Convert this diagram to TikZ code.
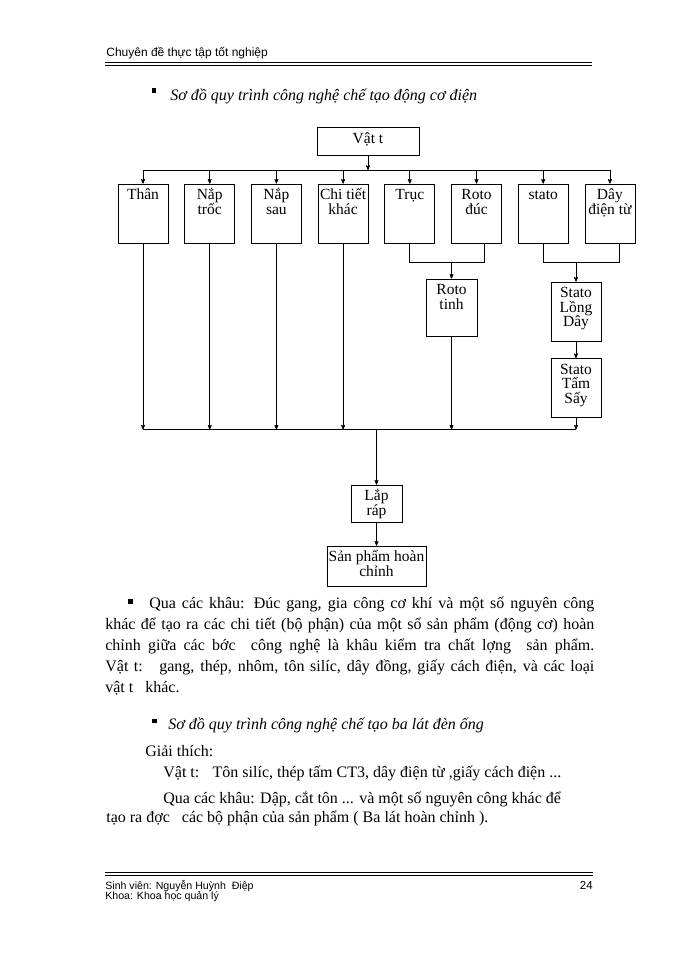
\documentclass[tikz,border=0pt]{standalone}
\usepackage{fontspec}
\setmainfont{Liberation Serif}
\newfontfamily\handfont{Liberation Sans}
\usetikzlibrary{arrows,positioning}
\newcommand{\boxfont}{\fontsize{15.5}{14.5}\selectfont\lineskiplimit=-20pt}
\newcommand{\toptext}[3]{\parbox[c][#1][t]{#2}{\centering\boxfont\rule{0pt}{14.5pt}#3}}
\tikzstyle{part}   = [draw,inner sep=0pt,minimum width=50pt,minimum height=59pt]
\tikzstyle{bullet} = [fill=black,inner sep=0pt,minimum size=4.5pt]
\tikzstyle{para}   = [inner sep=0pt,font=\fontsize{16}{21}\selectfont]
\tikzstyle{hand}   = [inner sep=0pt,font=\handfont\fontsize{10.6}{10.6}\selectfont]

\begin{document}
\begin{tikzpicture}[x=1pt,y=-1pt,->,>=stealth',line width=0.7pt,node distance=66.7pt]
\useasboundingbox (0,0) rectangle (700,960);

% header
\node[hand,anchor=base west,font=\handfont\fontsize{12}{12}\selectfont] (head) at (106,57) {Chuyên đề thực tập tốt nghiệp};
\draw[-] (105,62.5) -- (592,62.5);
\draw[-] (105,65) -- (592,65);

\node[bullet] (b1) at (154,90.5) {};
\node[para,anchor=base west,font=\itshape\fontsize{16}{16}\selectfont] (title1) at (170,101) {Sơ đồ quy trình công nghệ chế tạo động cơ điện};

% diagram
\node[draw,inner sep=0pt,minimum width=102pt,minimum height=28pt] (vattu) at (368,141) {\toptext{24pt}{100pt}{Vật t}};

\node[part] (than)              at (143,213.5) {\toptext{57pt}{50pt}{Thân}};
\node[part] (naptroc) [right of=than]    {\toptext{57pt}{50pt}{Nắp\\trốc}};
\node[part] (napsau)  [right of=naptroc] {\toptext{57pt}{50pt}{Nắp\\sau}};
\node[part] (chitiet) [right of=napsau]  {\toptext{57pt}{50pt}{Chi~tiết\\khác}};
\node[part] (truc)    [right of=chitiet] {\toptext{57pt}{50pt}{Trục}};
\node[part] (rotoduc) [right of=truc]    {\toptext{57pt}{50pt}{Roto\\đúc}};
\node[part] (stato)   [right of=rotoduc] {\toptext{57pt}{50pt}{stato}};
\node[part] (day)     [right of=stato]   {\toptext{57pt}{50pt}{Dây\\điện~từ}};

\node[part,minimum width=51pt,minimum height=57pt] (rototinh) at (451.5,307.5) {\toptext{55pt}{51pt}{Roto\\tinh}};
\node[part] (statolong) at (576,311.5) {\toptext{57pt}{50pt}{Stato\\Lồng\\Dây}};
\node[part] (statosay)  at (576,388)   {\toptext{57pt}{50pt}{Stato\\Tẩm\\Sấy}};
\node[part,minimum width=51pt,minimum height=37pt] (laprap)  at (376.5,503.5) {\toptext{35pt}{51pt}{Lắp\\ráp}};
\node[part,minimum width=99pt,minimum height=40pt] (sanpham) at (376.5,566)   {\toptext{38pt}{99pt}{Sản phẩm hoàn\\chỉnh}};

\coordinate (topbus)  at (0,170);
\coordinate (joinrow) at (0,262);
\coordinate (botbus)  at (0,429.5);

\draw (vattu) -- (vattu |- topbus);
\draw[-] (than |- topbus) -- (day |- topbus);
\path (than |- topbus)    edge (than)
      (naptroc |- topbus) edge (naptroc)
      (napsau |- topbus)  edge (napsau)
      (chitiet |- topbus) edge (chitiet)
      (truc |- topbus)    edge (truc)
      (rotoduc |- topbus) edge (rotoduc)
      (stato |- topbus)   edge (stato)
      (day |- topbus)     edge (day);

\draw[-] (truc) -- (truc |- joinrow) -| ([xshift=8pt]rotoduc.south);
\draw (rototinh |- joinrow) -- (rototinh);
\draw[-] (stato) -- (stato |- joinrow) -| ([xshift=9pt]day.south);
\draw (statolong |- joinrow) -- (statolong);
\draw (statolong) -- (statosay);

\path (than)     edge (than |- botbus)
      (naptroc)  edge (naptroc |- botbus)
      (napsau)   edge (napsau |- botbus)
      (chitiet)  edge (chitiet |- botbus)
      (rototinh) edge (rototinh |- botbus)
      (statosay) edge (statosay |- botbus);
\draw[-] (than |- botbus) -- (statosay |- botbus);

\draw (botbus -| laprap) -- (laprap);
\draw (laprap) -- (sanpham);

% text below
\node[para,text width=489pt,align=justify,anchor=north west] (qua) at (105,597)
  {\noindent\hspace*{23pt}\rule[5pt]{4.5pt}{4.5pt}\hspace*{16.5pt}Qua các khâu: Đúc gang, gia công cơ khí và một số nguyên công\linebreak
   khác để tạo ra các chi tiết (bộ phận) của một số sản phẩm (động cơ) hoàn\linebreak
   chỉnh giữa các bớc\hspace{8pt} công nghệ là khâu kiểm tra chất lợng\hspace{8pt} sản phẩm.\linebreak
   Vật t:\hspace{8pt} gang, thép, nhôm, tôn silíc, dây đồng, giấy cách điện, và các loại\linebreak
   vật t\hspace{8pt} khác.};

\node[bullet] (b2) at (154.5,721) {};
\node[para,anchor=base west,font=\itshape\fontsize{16}{16}\selectfont] (title2) at (168,729) {Sơ đồ quy trình công nghệ chế tạo ba lát đèn ống};
\node[para,anchor=base west] (giai) at (145,756) {Giải thích:};
\node[para,anchor=base west] (vattu2) at (163,777) {Vật t:\hspace{8pt} Tôn silíc, thép tấm CT3, dây điện từ ,giấy cách điện ...};
\node[para,anchor=base west] (qua2) at (163,803) {Qua các khâu: Dập, cắt tôn ... và một số nguyên công khác để};
\node[para,anchor=base west] (tao) at (106,822) {tạo ra đợc\hspace{8pt} các bộ phận của sản phẩm ( Ba lát hoàn chỉnh ).};

% footer
\draw[-,line width=1.1pt] (105,872.5) -- (593,872.5);
\draw[-] (105,875.5) -- (593,875.5);
\node[hand,anchor=base west] (sinh) at (105,889) {Sinh viên: Nguyễn Huỳnh\ \ Điệp};
\node[hand,anchor=base west] (khoa) at (105,899.5) {Khoa: Khoa học quản lý};
\node[hand,anchor=base east,font=\handfont\fontsize{11.5}{11.5}\selectfont] (page) at (593,889) {24};
\end{tikzpicture}
\end{document}
